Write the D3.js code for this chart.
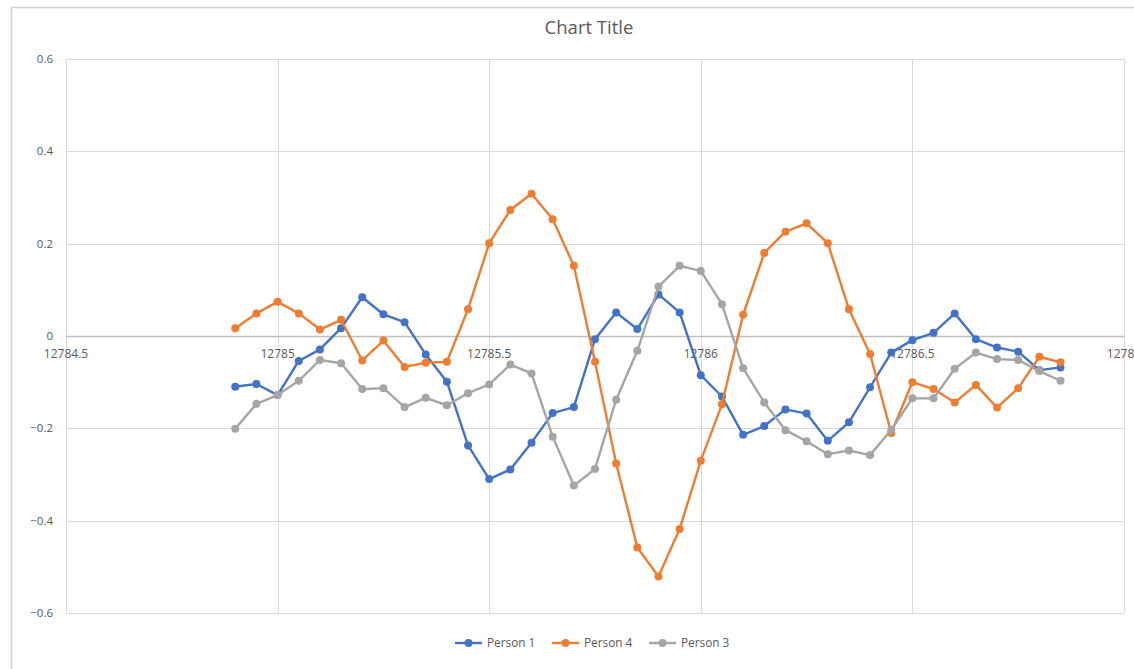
<!DOCTYPE html>
<html>
<head>
<meta charset="utf-8">
<script src="https://cdn.jsdelivr.net/npm/d3@7"></script>
<style>
  html, body { margin: 0; padding: 0; background: #fff; overflow: hidden; }
  svg { display: block; }
  text { font-family: "Open Sans", "Liberation Sans", sans-serif; }
</style>
</head>
<body>
<svg id="chart" width="1134" height="669"></svg>
<script>
// x values (time stamps) shared by every series
const xValues = [
  12784.90, 12784.95, 12785.00, 12785.05, 12785.10, 12785.15, 12785.20, 12785.25,
  12785.30, 12785.35, 12785.40, 12785.45, 12785.50, 12785.55, 12785.60, 12785.65,
  12785.70, 12785.75, 12785.80, 12785.85, 12785.90, 12785.95, 12786.00, 12786.05,
  12786.10, 12786.15, 12786.20, 12786.25, 12786.30, 12786.35, 12786.40, 12786.45,
  12786.50, 12786.55, 12786.60, 12786.65, 12786.70, 12786.75, 12786.80, 12786.85
];

const person1 = [
  -0.110, -0.104, -0.128, -0.054, -0.029, 0.017, 0.084, 0.047,
  0.030, -0.040, -0.099, -0.237, -0.310, -0.289, -0.231, -0.167,
  -0.154, -0.007, 0.051, 0.015, 0.090, 0.051, -0.085, -0.131,
  -0.214, -0.195, -0.159, -0.168, -0.227, -0.187, -0.111, -0.036,
  -0.009, 0.007, 0.049, -0.007, -0.025, -0.034, -0.074, -0.068
];

const person4 = [
  0.017, 0.049, 0.074, 0.049, 0.014, 0.035, -0.053, -0.010,
  -0.067, -0.058, -0.056, 0.058, 0.201, 0.273, 0.308, 0.253,
  0.152, -0.056, -0.276, -0.458, -0.521, -0.418, -0.270, -0.148,
  0.046, 0.180, 0.226, 0.244, 0.201, 0.058, -0.039, -0.210,
  -0.100, -0.115, -0.144, -0.106, -0.155, -0.113, -0.045, -0.057
];

const person3 = [
  -0.201, -0.147, -0.128, -0.097, -0.052, -0.059, -0.115, -0.113,
  -0.154, -0.134, -0.150, -0.124, -0.105, -0.062, -0.081, -0.218,
  -0.324, -0.288, -0.138, -0.032, 0.107, 0.152, 0.141, 0.069,
  -0.070, -0.144, -0.204, -0.228, -0.256, -0.248, -0.258, -0.203,
  -0.135, -0.135, -0.071, -0.036, -0.050, -0.052, -0.076, -0.097
];

const seriesNames = ["Person 1", "Person 4", "Person 3"];
const seriesColors = ["#4472C4", "#ED7D31", "#A5A5A5"];
const xTicks = [12784.5, 12785, 12785.5, 12786, 12786.5, 12787];
const yTicks = [-0.6, -0.4, -0.2, 0, 0.2, 0.4, 0.6];
const chartTitle = "Chart Title";

const series = [person1, person4, person3].map((vals, i) => ({
  name: seriesNames[i],
  color: seriesColors[i],
  points: vals.map((v, j) => ({ x: xValues[j], y: v }))
}));

const svg = d3.select("#chart");

// outer chart frame (continues past the window on the right and bottom)
svg.append("rect")
  .attr("x", 11.5).attr("y", 7.5)
  .attr("width", 1200).attr("height", 700)
  .attr("fill", "#fff")
  .attr("stroke", "#D0D0D0")
  .attr("stroke-width", 1.5);

const plot = { left: 66, right: 1124, top: 59, bottom: 613 };

const x = d3.scaleLinear().domain([12784.5, 12787]).range([plot.left, plot.right]);
const y = d3.scaleLinear().domain([-0.6, 0.6]).range([plot.bottom, plot.top]);

// gridlines
const grid = svg.append("g");
grid.selectAll(".vg").data(xTicks).join("line")
  .attr("x1", d => Math.round(x(d)) + 0.5).attr("x2", d => Math.round(x(d)) + 0.5)
  .attr("y1", plot.top).attr("y2", plot.bottom)
  .attr("stroke", "#D9D9D9").attr("stroke-width", 1);
grid.selectAll(".hg").data(yTicks.filter(d => d !== 0)).join("line")
  .attr("x1", plot.left).attr("x2", plot.right)
  .attr("y1", d => Math.round(y(d)) + 0.5).attr("y2", d => Math.round(y(d)) + 0.5)
  .attr("stroke", "#D9D9D9").attr("stroke-width", 1);

// horizontal axis drawn at y = 0
svg.append("line")
  .attr("x1", plot.left).attr("x2", plot.right)
  .attr("y1", Math.round(y(0)) + 0.5).attr("y2", Math.round(y(0)) + 0.5)
  .attr("stroke", "#BFBFBF").attr("stroke-width", 1.5);

// y tick labels
svg.append("g").selectAll("text").data(yTicks).join("text")
  .attr("x", 53)
  .attr("y", d => y(d))
  .attr("dy", "0.35em")
  .attr("text-anchor", "end")
  .attr("font-size", 11.5)
  .attr("fill", "#595959")
  .text(d => d3.format("")(d));

// x tick labels, sitting just below the zero line
svg.append("g").selectAll("text").data(xTicks).join("text")
  .attr("x", d => x(d))
  .attr("y", y(0) + 22)
  .attr("text-anchor", "middle")
  .attr("font-size", 12)
  .attr("fill", "#595959")
  .text(d => d3.format("")(d));

// title
svg.append("text")
  .attr("x", 589).attr("y", 34)
  .attr("text-anchor", "middle")
  .attr("font-size", 18.5)
  .attr("fill", "#595959")
  .text(chartTitle);

// series lines and markers
const line = d3.line().x(d => x(d.x)).y(d => y(d.y));
const sg = svg.append("g").selectAll("g").data(series).join("g");
sg.append("path")
  .attr("d", d => line(d.points))
  .attr("fill", "none")
  .attr("stroke", d => d.color)
  .attr("stroke-width", 2.4)
  .attr("stroke-linejoin", "round");
sg.each(function (s) {
  d3.select(this).selectAll("circle").data(s.points).join("circle")
    .attr("cx", d => x(d.x)).attr("cy", d => y(d.y))
    .attr("r", 4)
    .attr("fill", s.color);
});

// legend
const legendX = [455, 552, 649];
const lg = svg.append("g").selectAll("g").data(series).join("g")
  .attr("transform", (d, i) => `translate(${legendX[i]},643)`);
lg.append("line")
  .attr("x1", 0).attr("x2", 27).attr("y1", 0).attr("y2", 0)
  .attr("stroke", d => d.color).attr("stroke-width", 2.4);
lg.append("circle").attr("cx", 13.5).attr("cy", 0).attr("r", 4)
  .attr("fill", d => d.color);
lg.append("text")
  .attr("x", 32).attr("y", 0).attr("dy", "0.35em")
  .attr("font-size", 11.8)
  .attr("fill", "#595959")
  .text(d => d.name);
</script>
</body>
</html>
